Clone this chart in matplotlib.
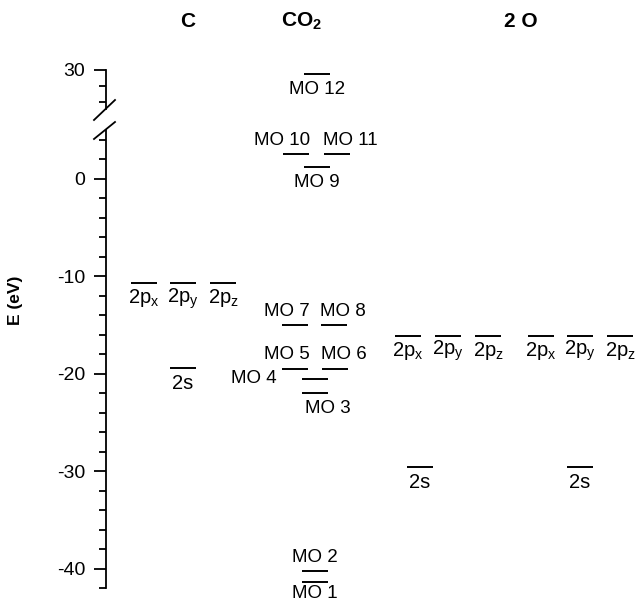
import matplotlib
matplotlib.use('Agg')
import matplotlib.pyplot as plt
from matplotlib.lines import Line2D
from matplotlib.ticker import MultipleLocator

plt.rcParams['font.family'] = ['Liberation Sans', 'DejaVu Sans']
plt.rcParams['mathtext.fontset'] = 'custom'
plt.rcParams['mathtext.rm'] = 'Liberation Sans'
plt.rcParams['mathtext.it'] = 'Liberation Sans'
plt.rcParams['mathtext.bf'] = 'Liberation Sans:bold'
plt.rcParams['mathtext.default'] = 'regular'
plt.rcParams['axes.unicode_minus'] = False

# --- data (energies in eV) ---
c_labels = ['2p$_x$', '2p$_y$', '2p$_z$', '2s']
c_energy = [-10.7, -10.7, -10.7, -19.4]

mo_labels = ['MO 1', 'MO 2', 'MO 3', 'MO 4', 'MO 5', 'MO 6',
             'MO 7', 'MO 8', 'MO 9', 'MO 10', 'MO 11', 'MO 12']
mo_energy = [-41.4, -40.3, -22.0, -20.6, -19.5, -19.5,
             -15.0, -15.0, 1.2, 2.5, 2.5, 29.5]

o_labels = ['2p$_x$', '2p$_y$', '2p$_z$', '2p$_x$', '2p$_y$', '2p$_z$', '2s', '2s']
o_energy = [-16.1, -16.1, -16.1, -16.1, -16.1, -16.1, -29.6, -29.6]

headers = ['C', r'CO$_{\mathbf{2}}$', '2 O']

# --- layout (horizontal slots, label placement) ---
c_x = [38, 77, 117, 77]
mo_x = [209, 209, 209, 209, 189, 229, 189, 228, 211, 190, 231, 211]
mo_place = ['bottom', 'above', 'below_r', 'left', 'above_r', 'above_l',
            'above_r', 'above_l', 'below', 'above_r', 'above_l', 'below']
o_x = [302, 342, 382, 435, 474, 514, 314, 474]
header_x = [82, 196, 415]
half = 13
break_at = 20

W, H = 644, 604
fig = plt.figure(figsize=(W / 100, H / 100), dpi=100)
ax = fig.add_axes([106 / W, (H - 588) / H, (W - 106) / W, (588 - 130) / H])
ax_top = fig.add_axes([106 / W, (H - 109) / H, (W - 106) / W, (109 - 70) / H])

ax.set_ylim(-42, 5.0)
ax_top.set_ylim(25.1, 30)
for a in (ax, ax_top):
    a.set_xlim(0, 538)
    a.xaxis.set_visible(False)
    for s in ('top', 'right', 'bottom'):
        a.spines[s].set_visible(False)
    a.spines['left'].set_linewidth(1.3)
    a.patch.set_alpha(0)
    a.tick_params(axis='y', which='major', length=9, width=1.3, labelsize=14, pad=6)
    a.tick_params(axis='y', which='minor', length=5, width=1.3)

ax.set_yticks([0, -10, -20, -30, -40])
ax.yaxis.set_minor_locator(MultipleLocator(2))
ax_top.set_yticks([30])
ax_top.set_yticks([26, 28], minor=True)

off = {'below': (0, -11, 'center'), 'bottom': (0, -8.5, 'center'),
       'above': (0, 10, 'center'),
       'below_r': (9, -11, 'center'), 'left': (-18, 1, 'right'),
       'above_r': (1, 10, 'right'), 'above_l': (-1, 10, 'left')}


def level(x, e, label, place='below', fs=13.5):
    a = ax_top if e > break_at else ax
    a.plot([x - half, x + half], [e, e], color='black', lw=1.4,
           solid_capstyle='butt')
    dx, dy, ha = off[place]
    if place == 'above_r':
        xa = x + half
    elif place in ('left', 'above_l'):
        xa = x - half
    else:
        xa = x
    a.annotate(label, xy=(xa, e), xytext=(dx, dy), textcoords='offset points',
               ha=ha, va='center', fontsize=fs, annotation_clip=False)


for x, e, lab in zip(c_x, c_energy, c_labels):
    level(x, e, lab, fs=14.5)
for x, e, lab, p in zip(mo_x, mo_energy, mo_labels, mo_place):
    level(x, e, lab, p)
for x, e, lab in zip(o_x, o_energy, o_labels):
    level(x, e, lab, fs=14.5)

for x, h in zip(header_x, headers):
    ax_top.annotate(h, xy=(x, 30), xytext=(0, 35), textcoords='offset points',
                    ha='center', va='center', fontsize=15, fontweight='bold',
                    annotation_clip=False)

fig.text(16 / W, 1 - 300 / H, 'E (eV)', rotation=90, ha='center', va='center',
         fontsize=12.5, fontweight='bold')

# axis break marks
for (x0, y0, x1, y1) in [(94, 120, 115, 100), (94, 139, 115, 122)]:
    fig.add_artist(Line2D([x0 / W, x1 / W], [1 - y0 / H, 1 - y1 / H],
                          transform=fig.transFigure, color='black', lw=1.3))

fig.savefig('out.png', dpi=100)
